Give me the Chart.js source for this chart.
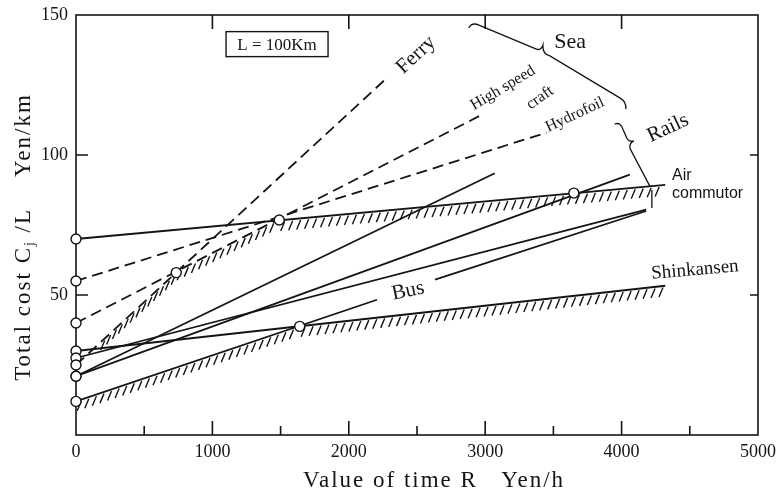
<!DOCTYPE html>
<html>
<head>
<meta charset="utf-8">
<title>Total cost against value of time</title>
<script src="https://cdn.jsdelivr.net/npm/chart.js@4.4.1/dist/chart.umd.min.js"></script>
<style>
  html, body { margin: 0; padding: 0; background: #fff; }
  #box { width: 778px; height: 496px; }
</style>
</head>
<body>
<div id="box"><canvas id="costChart"></canvas></div>
<script>
// axis ranges and tick labels
const timeTicks = [0, 1000, 2000, 3000, 4000, 5000];
const timeMinorTicks = [500, 1500, 2500, 3500, 4500];
const costTicks = [0, 50, 100, 150];

// each mode: value of time R (Yen/h) -> total cost Cj/L (Yen/km)
const airTime = [0, 4320];          const airCost = [70, 89.3];
const hydrofoilTime = [0, 3450];    const hydrofoilCost = [55, 108];
const highSpeedTime = [0, 2960];    const highSpeedCost = [40, 114];
const ferryTime = [0, 2290];        const ferryCost = [25, 128];
const railATime = [0, 3070];        const railACost = [21, 93.5];
const railBTime = [0, 4060];        const railBCost = [21, 93];
const railCTime = [0, 4180];        const railCCost = [27.5, 80.5];
const shinkansenTime = [0, 4320];   const shinkansenCost = [30, 53.3];
const busTime = [0, 2207, 2420, 2632, 4180];
const busCost = [12, 48.3, null, 55.5, 80];   // gap where the "Bus" label sits

// open circles where the cheapest mode changes
const crossTime = [735, 1490, 3650, 1640];
const crossCost = [58, 76.8, 86.4, 38.8];

// stretches of each line that carry the hatching (lower bound)
const airHatch = [1490, 4320];
const highSpeedHatch = [735, 1490];
const ferryHatch = [180, 735];
const busHatch = [0, 1640];
const shinkansenHatch = [1640, 4320];

const INK = '#141414';
const SERIF = "'Liberation Serif', 'Times New Roman', serif";
const SANS = "'Liberation Sans', Arial, sans-serif";

function pts(xs, ys) {
    return xs.map((x, i) => ({ x: x, y: ys[i] }));
}

function modeLine(label, xs, ys, dashed, hatch) {
    return {
        label: label,
        data: pts(xs, ys),
        borderColor: INK,
        borderWidth: 1.8,
        borderDash: dashed ? [11, 6] : [],
        pointRadius: c => (c.raw && c.raw.x === 0 ? 5 : 0),
        pointHoverRadius: 0,
        pointBackgroundColor: '#fff',
        pointBorderColor: INK,
        pointBorderWidth: 1.4,
        tension: 0,
        spanGaps: false,
        clip: false,
        hatch: hatch || null
    };
}

// cost on a dataset's polyline at value of time x
function costAt(ds, x) {
    const p = ds.data.filter(d => d.y !== null);
    for (let i = 0; i < p.length - 1; i++) {
        if (x >= p[i].x && x <= p[i + 1].x) {
            const t = (x - p[i].x) / (p[i + 1].x - p[i].x);
            return p[i].y + t * (p[i + 1].y - p[i].y);
        }
    }
    return p[p.length - 1].y;
}

// text notes on the plot, in data units
const notes = [
    { text: 'Ferry', x: 2493, y: 135.7, angle: -43, font: '21px ' + SERIF },
    { text: 'Sea', x: 3622, y: 140.4, angle: 0, font: '22px ' + SERIF },
    { text: 'High speed', x: 3130, y: 123.9, angle: -31, font: '16px ' + SERIF },
    { text: 'craft', x: 3402, y: 120.4, angle: -35, font: '16px ' + SERIF },
    { text: 'Hydrofoil', x: 3658, y: 114.3, angle: -25, font: '16px ' + SERIF },
    { text: 'Rails', x: 4340, y: 109.6, angle: -25, font: '21px ' + SERIF },
    { text: 'Air', x: 4370, y: 92.5, angle: 0, font: '16px ' + SANS, align: 'left' },
    { text: 'commutor', x: 4370, y: 86.1, angle: 0, font: '16px ' + SANS, align: 'left' },
    { text: 'Bus', x: 2434, y: 51.4, angle: -12, font: '21px ' + SERIF },
    { text: 'Shinkansen', x: 4538, y: 58.9, angle: -5, font: '19px ' + SERIF }
];

// braces as data points: 'M' move, 'L' line, 'Q' quad curve (ctrl, end)
const seaBrace = [
    ['M', 2880, 145.4], ['Q', 2902, 147.5, 2954, 146.4], ['L', 3371, 137.9],
    ['Q', 3408, 137.1, 3423, 139.2], ['Q', 3420, 136.0, 3474, 135.4],
    ['L', 3987, 120.4], ['Q', 4038, 118.9, 4031, 116.4]
];
const railsBrace = [
    ['M', 3950, 111.1], ['Q', 3994, 111.8, 4009, 109.3], ['L', 4038, 106.1],
    ['Q', 4053, 104.6, 4090, 105.0], ['Q', 4060, 104.6, 4060, 102.5],
    ['L', 4207, 88.9], ['M', 4222, 87.5], ['L', 4222, 81.1]
];

const framePlugin = {
    id: 'frameAndHatch',
    beforeDatasetsDraw(chart) {
        const { ctx, chartArea: a, scales: { x, y } } = chart;
        ctx.save();
        ctx.strokeStyle = INK;
        ctx.lineWidth = 1.6;
        ctx.strokeRect(a.left, a.top, a.right - a.left, a.bottom - a.top);
        ctx.beginPath();
        timeTicks.slice(1, -1).forEach(v => {
            const px = x.getPixelForValue(v);
            ctx.moveTo(px, a.bottom); ctx.lineTo(px, a.bottom - 14);
            ctx.moveTo(px, a.top); ctx.lineTo(px, a.top + 14);
        });
        timeMinorTicks.forEach(v => {
            const px = x.getPixelForValue(v);
            ctx.moveTo(px, a.bottom); ctx.lineTo(px, a.bottom - 9);
        });
        costTicks.slice(1, -1).forEach(v => {
            const py = y.getPixelForValue(v);
            ctx.moveTo(a.left, py); ctx.lineTo(a.left + 12, py);
            ctx.moveTo(a.right, py); ctx.lineTo(a.right - 8, py);
        });
        ctx.stroke();

        // hatching under the lower-bound stretches
        ctx.lineWidth = 1.4;
        ctx.beginPath();
        chart.data.datasets.forEach(ds => {
            if (!ds.hatch) return;
            const x0 = x.getPixelForValue(ds.hatch[0]);
            const y0 = y.getPixelForValue(costAt(ds, ds.hatch[0]));
            const x1 = x.getPixelForValue(ds.hatch[1]);
            const y1 = y.getPixelForValue(costAt(ds, ds.hatch[1]));
            const len = Math.hypot(x1 - x0, y1 - y0);
            for (let s = 5; s <= len; s += 8) {
                const X = x0 + (x1 - x0) * s / len;
                const Y = y0 + (y1 - y0) * s / len;
                ctx.moveTo(X + 0.5, Y + 1.5);
                ctx.lineTo(X - 3.5, Y + 11);
            }
        });
        ctx.stroke();
        ctx.restore();
    },
    afterDatasetsDraw(chart) {
        const { ctx, chartArea: a, scales: { x, y } } = chart;
        ctx.save();
        ctx.fillStyle = INK;
        ctx.strokeStyle = INK;
        ctx.textBaseline = 'middle';

        notes.forEach(n => {
            ctx.save();
            ctx.translate(x.getPixelForValue(n.x), y.getPixelForValue(n.y));
            ctx.rotate(n.angle * Math.PI / 180);
            ctx.font = n.font;
            ctx.textAlign = n.align || 'center';
            ctx.fillText(n.text, 0, 0);
            ctx.restore();
        });

        // distance box
        const bx = x.getPixelForValue(1474), by = y.getPixelForValue(139.6);
        ctx.lineWidth = 1.4;
        ctx.strokeRect(bx - 51, by - 12.5, 102, 25);
        ctx.font = '17px ' + SERIF;
        ctx.textAlign = 'center';
        ctx.fillText('L = 100Km', bx, by + 1);

        // braces
        ctx.lineWidth = 1.3;
        [seaBrace, railsBrace].forEach(path => {
            ctx.beginPath();
            path.forEach(s => {
                if (s[0] === 'M') ctx.moveTo(x.getPixelForValue(s[1]), y.getPixelForValue(s[2]));
                else if (s[0] === 'L') ctx.lineTo(x.getPixelForValue(s[1]), y.getPixelForValue(s[2]));
                else ctx.quadraticCurveTo(x.getPixelForValue(s[1]), y.getPixelForValue(s[2]),
                                          x.getPixelForValue(s[3]), y.getPixelForValue(s[4]));
            });
            ctx.stroke();
        });

        // axis titles
        ctx.textAlign = 'left';
        ctx.font = '23px ' + SERIF;
        ctx.letterSpacing = '2px';
        const xt = 'Value of time R   Yen/h';
        ctx.fillText(xt, 434 - ctx.measureText(xt).width / 2, 481);

        ctx.translate(24, (a.top + a.bottom) / 2 + 12);
        ctx.rotate(-Math.PI / 2);
        const main = '23px ' + SERIF, sub = '14px ' + SERIF;
        const parts = [['Total cost C', main, 0], ['j', sub, 6], [' /L    Yen/km', main, 0]];
        let w = 0;
        parts.forEach(p => { ctx.font = p[1]; w += ctx.measureText(p[0]).width; });
        let cx = -w / 2;
        parts.forEach(p => {
            ctx.font = p[1];
            ctx.fillText(p[0], cx, p[2]);
            cx += ctx.measureText(p[0]).width;
        });
        ctx.restore();
    }
};

new Chart(document.getElementById('costChart'), {
    type: 'line',
    data: {
        datasets: [
            {
                label: 'Crossings',
                type: 'scatter',
                data: pts(crossTime, crossCost),
                showLine: false,
                pointRadius: 5,
                pointBackgroundColor: '#fff',
                pointBorderColor: INK,
                pointBorderWidth: 1.4,
                order: -1
            },
            modeLine('Air commutor', airTime, airCost, false, airHatch),
            modeLine('Hydrofoil', hydrofoilTime, hydrofoilCost, true),
            modeLine('High speed craft', highSpeedTime, highSpeedCost, true, highSpeedHatch),
            modeLine('Ferry', ferryTime, ferryCost, true, ferryHatch),
            modeLine('Rails A', railATime, railACost, false),
            modeLine('Rails B', railBTime, railBCost, false),
            modeLine('Rails C', railCTime, railCCost, false),
            modeLine('Shinkansen', shinkansenTime, shinkansenCost, false, shinkansenHatch),
            modeLine('Bus', busTime, busCost, false, busHatch)
        ]
    },
    options: {
        responsive: true,
        maintainAspectRatio: false,
        animation: false,
        layout: { padding: { top: 15, right: 20, left: 0, bottom: 0 } },
        plugins: {
            legend: { display: false },
            tooltip: { enabled: false }
        },
        scales: {
            x: {
                type: 'linear',
                min: timeTicks[0],
                max: timeTicks[timeTicks.length - 1],
                afterBuildTicks: s => { s.ticks = timeTicks.map(v => ({ value: v })); },
                afterFit: s => { s.height = 61; s.paddingLeft = 0; s.paddingRight = 0; },
                grid: { display: false, drawTicks: false },
                border: { display: false },
                ticks: {
                    padding: 6, color: INK, maxRotation: 0, font: { family: SERIF, size: 18 },
                    callback: v => String(v)
                }
            },
            y: {
                type: 'linear',
                min: costTicks[0],
                max: costTicks[costTicks.length - 1],
                afterBuildTicks: s => { s.ticks = costTicks.map(v => ({ value: v })); },
                afterFit: s => { s.width = 76; s.paddingTop = 0; s.paddingBottom = 0; },
                grid: { display: false, drawTicks: false },
                border: { display: false },
                ticks: {
                    padding: 8, color: INK, font: { family: SERIF, size: 18 },
                    callback: v => (v === 0 ? '' : String(v))
                }
            }
        }
    },
    plugins: [framePlugin]
});
</script>
</body>
</html>
